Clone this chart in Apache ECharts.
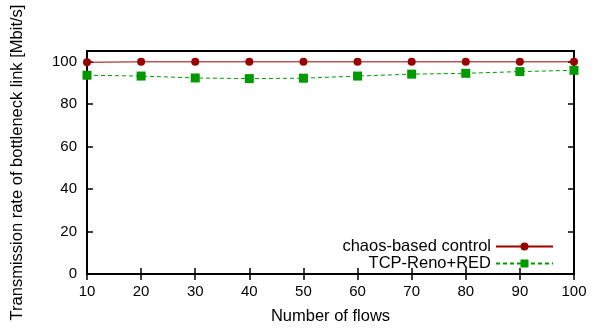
<!DOCTYPE html>
<html>
<head>
<meta charset="utf-8">
<script src="https://cdn.jsdelivr.net/npm/echarts@6/dist/echarts.min.js"></script>
<style>
  html, body { margin: 0; padding: 0; background: #fff; }
  #main { width: 600px; height: 330px; }
</style>
</head>
<body>
<div id="main"></div>
<script>
var flows = [10, 20, 30, 40, 50, 60, 70, 80, 90, 100];
var chaosRate = [99.7, 99.9, 99.9, 99.9, 99.9, 99.9, 99.9, 99.9, 99.9, 99.9];
var redRate = [93.6, 93.2, 92.3, 92.0, 92.2, 93.2, 94.1, 94.5, 95.3, 95.9];

var chartDom = document.getElementById('main');
var myChart = echarts.init(chartDom);

function pairs(ys) {
  return flows.map(function (x, i) { return [x, ys[i]]; });
}

var font = 'Liberation Sans';
var tickStyle = { show: true, inside: true, length: 6, lineStyle: { color: '#000', width: 1.5 } };

var option = {
  animation: false,
  textStyle: { fontFamily: font },
  grid: {
    left: 87, right: 26, top: 51, bottom: 54,
    show: true, borderColor: '#000', borderWidth: 2
  },
  legend: {
    orient: 'vertical',
    right: 41,
    top: 233,
    align: 'right',
    itemWidth: 57,
    itemHeight: 10,
    itemGap: 0,
    textStyle: { fontFamily: font, fontSize: 16.5, color: '#000' },
    data: ['chaos-based control', 'TCP-Reno+RED']
  },
  xAxis: [
    {
      type: 'value', min: 10, max: 100, interval: 10,
      name: 'Number of flows', nameLocation: 'middle', nameGap: 34,
      nameTextStyle: { fontFamily: font, fontSize: 16.5, color: '#000' },
      axisLine: { show: true, lineStyle: { color: '#000', width: 2 } },
      axisTick: tickStyle,
      axisLabel: { fontFamily: font, fontSize: 15, color: '#000', margin: 10 },
      splitLine: { show: false }
    },
    {
      type: 'value', min: 10, max: 100, interval: 10, position: 'top',
      axisLine: { show: true, lineStyle: { color: '#000', width: 2 } },
      axisTick: tickStyle,
      axisLabel: { show: false },
      splitLine: { show: false }
    }
  ],
  yAxis: [
    {
      type: 'value', min: 0, max: 105, interval: 20,
      name: 'Transmission rate of bottleneck link [Mbit/s]',
      nameLocation: 'middle', nameGap: 61,
      nameTextStyle: { fontFamily: font, fontSize: 16.5, color: '#000' },
      axisLine: { show: true, lineStyle: { color: '#000', width: 2 } },
      axisTick: tickStyle,
      axisLabel: {
        fontFamily: font, fontSize: 15, color: '#000', margin: 10,
        showMaxLabel: false
      },
      splitLine: { show: false }
    },
    {
      type: 'value', min: 0, max: 105, interval: 20, position: 'right',
      axisLine: { show: true, lineStyle: { color: '#000', width: 2 } },
      axisTick: tickStyle,
      axisLabel: { show: false },
      splitLine: { show: false }
    }
  ],
  series: [
    {
      name: 'chaos-based control',
      type: 'line',
      data: pairs(chaosRate),
      symbol: 'circle',
      symbolSize: 8,
      color: '#990000',
      lineStyle: { color: '#990000', width: 1 },
      itemStyle: { color: '#990000' }
    },
    {
      name: 'TCP-Reno+RED',
      type: 'line',
      data: pairs(redRate),
      symbol: 'rect',
      symbolSize: 9,
      color: '#009900',
      lineStyle: { color: '#009900', width: 1, type: [4, 3] },
      itemStyle: { color: '#009900' }
    }
  ]
};

option && myChart.setOption(option);
</script>
</body>
</html>
